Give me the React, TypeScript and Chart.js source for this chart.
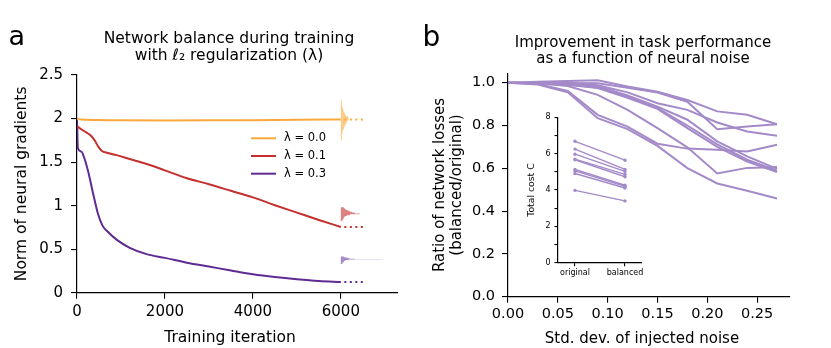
import { useEffect, useRef } from 'react';
import { Chart, registerables } from 'chart.js';

Chart.register(...registerables);

const FONT = 'DejaVu Sans';

// ---------- Panel a data ----------
const iterOrange = [0, 100, 500, 1000, 2000, 3000, 4000, 5000, 6000];
const normOrange = [1.995, 1.99, 1.982, 1.979, 1.978, 1.979, 1.981, 1.985, 1.99];
const iterRed = [0, 150, 300, 400, 480, 560, 700, 900, 1200, 1600, 2000, 2500, 3000, 3500, 4000, 4500, 5000, 5500, 6000];
const normRed = [1.91, 1.86, 1.81, 1.75, 1.68, 1.63, 1.605, 1.58, 1.535, 1.475, 1.405, 1.315, 1.245, 1.17, 1.095, 1.005, 0.92, 0.835, 0.755];
const iterPurple = [0, 20, 100, 150, 250, 370, 480, 580, 700, 900, 1200, 1600, 2000, 2500, 3000, 3500, 4000, 4500, 5000, 5500, 6000];
const normPurple = [2.0, 1.66, 1.62, 1.57, 1.4, 1.13, 0.9, 0.77, 0.7, 0.61, 0.515, 0.44, 0.4, 0.345, 0.3, 0.255, 0.212, 0.18, 0.155, 0.135, 0.123];
const lambdaLabels = ['λ = 0.0', 'λ = 0.1', 'λ = 0.3'];
const xTicksA = [0, 2000, 4000, 6000];
const yTicksA = [0, 0.5, 1, 1.5, 2, 2.5];
const tailStart = 6000;
const tailEnd = 6500;
// histograms of final gradient norms (bin lower edge, bin width, counts)
const histOrangeLow = 1.75;
const histOrangeBin = 0.02;
const histOrangeCounts = [1, 1, 1, 1.5, 1.5, 2, 3, 3.5, 4, 5, 6, 7, 8, 7, 5, 4, 3, 2.5, 2, 1.5, 1, 1, 1];
const histRedLow = 0.82;
const histRedBin = 0.01;
const histRedCounts = [1, 2, 2, 3, 3, 4, 6, 9, 19, 14, 11, 9, 7, 5, 4, 3];
const histPurpleLow = 0.33;
const histPurpleBin = 0.005;
const histPurpleCounts = [1, 2, 2, 2, 3, 3, 3, 4, 5, 8, 42, 14, 9, 7, 6, 4, 3];

// ---------- Panel b data ----------
const noiseStd = [0, 0.03, 0.06, 0.09, 0.12, 0.15, 0.18, 0.21, 0.24, 0.27];
const ratioNet1 = [1, 1.004, 1.008, 1.012, 0.982, 0.958, 0.919, 0.866, 0.85, 0.806];
const ratioNet2 = [1, 1.0, 0.999, 0.997, 0.976, 0.954, 0.911, 0.783, 0.795, 0.806];
const ratioNet3 = [1, 1.0, 0.996, 0.988, 0.955, 0.904, 0.873, 0.814, 0.772, 0.752];
const ratioNet4 = [1, 0.999, 0.992, 0.984, 0.94, 0.888, 0.827, 0.726, 0.656, 0.597];
const ratioNet5 = [1, 0.998, 0.99, 0.978, 0.933, 0.881, 0.8, 0.712, 0.64, 0.589];
const ratioNet6 = [1, 0.997, 0.985, 0.943, 0.873, 0.788, 0.698, 0.576, 0.602, 0.606];
const ratioNet7 = [1, 0.994, 0.962, 0.85, 0.795, 0.715, 0.692, 0.687, 0.679, 0.71];
const ratioNet8 = [1, 0.992, 0.955, 0.834, 0.783, 0.705, 0.601, 0.529, 0.495, 0.459];
const ratioNet9 = [1, 0.998, 0.99, 0.975, 0.93, 0.878, 0.788, 0.7, 0.632, 0.583];
const xTicksB = [0, 0.05, 0.1, 0.15, 0.2, 0.25];
const yTicksB = [0, 0.2, 0.4, 0.6, 0.8, 1.0];

// ---------- Inset data ----------
const insetCategories = ['original', 'balanced'];
const costOriginal = [6.68, 6.25, 5.97, 5.7, 5.66, 5.13, 5.05, 4.91, 3.98];
const costBalanced = [5.64, 5.13, 5.02, 4.86, 4.73, 4.26, 4.2, 4.11, 3.4];
const yTicksInset = [0, 1, 2, 3, 4, 5, 6, 7, 8];

// ---------- styles ----------
const ORANGE = '#f9a93c';
const RED = '#c5302f';
const PURPLE = '#5f2b93';
const ORANGE_H = 'rgba(249,169,60,0.6)';
const RED_H = 'rgba(197,48,47,0.6)';
const PURPLE_H = 'rgba(95,43,147,0.55)';
const LILAC = '#a48ac9';
const HIST_UNIT = 22.7; // iterations per count unit

type TextItem = { text: string; x: number; y: number; size: number; align?: CanvasTextAlign };

function textPlugin(id: string, left: number, top: number, items: TextItem[]) {
  return {
    id,
    afterDraw(chart: any) {
      const ctx = chart.ctx as CanvasRenderingContext2D;
      ctx.save();
      ctx.fillStyle = '#000';
      ctx.textBaseline = 'alphabetic';
      for (const it of items) {
        ctx.font = `${it.size}px "${FONT}"`;
        ctx.textAlign = it.align ?? 'center';
        ctx.fillText(it.text, it.x - left, it.y - top);
      }
      ctx.restore();
    },
  };
}

const legendPlugin = {
  id: 'lambdaLegend',
  afterDraw(chart: any) {
    const ctx = chart.ctx as CanvasRenderingContext2D;
    ctx.save();
    lambdaLabels.forEach((lab, i) => {
      const y = 138.3 + i * 17.7;
      ctx.strokeStyle = chart.data.datasets[i].borderColor;
      ctx.lineWidth = 2;
      ctx.beginPath();
      ctx.moveTo(251, y);
      ctx.lineTo(276, y);
      ctx.stroke();
      ctx.fillStyle = '#000';
      ctx.font = `11.5px "${FONT}"`;
      ctx.textAlign = 'left';
      ctx.textBaseline = 'middle';
      ctx.fillText(lab, 284, y);
    });
    ctx.restore();
  },
};

const hists = [
  { low: histOrangeLow, bin: histOrangeBin, counts: histOrangeCounts, color: ORANGE_H },
  { low: histRedLow, bin: histRedBin, counts: histRedCounts, color: RED_H },
  { low: histPurpleLow, bin: histPurpleBin, counts: histPurpleCounts, color: PURPLE_H },
];

const histPlugin = {
  id: 'hists',
  beforeDatasetsDraw(chart: any) {
    const { ctx, scales } = chart;
    const xs = scales.x;
    const ys = scales.y;
    ctx.save();
    for (const h of hists) {
      const x0 = xs.getPixelForValue(tailStart);
      ctx.fillStyle = h.color;
      ctx.beginPath();
      ctx.moveTo(x0, ys.getPixelForValue(h.low));
      h.counts.forEach((c: number, i: number) => {
        const x1 = xs.getPixelForValue(tailStart + c * HIST_UNIT);
        ctx.lineTo(x1, ys.getPixelForValue(h.low + i * h.bin));
        ctx.lineTo(x1, ys.getPixelForValue(h.low + (i + 1) * h.bin));
      });
      ctx.lineTo(x0, ys.getPixelForValue(h.low + h.counts.length * h.bin));
      ctx.closePath();
      ctx.fill();
    }
    ctx.restore();
  },
};

function axis(size: number, tickLen: number, pad: number, ticksArr: number[], cb: (v: number) => string, fit: (s: any) => void) {
  return {
    type: 'linear' as const,
    grid: { drawOnChartArea: false, drawTicks: true, tickLength: tickLen, color: '#000', lineWidth: 1.1 },
    border: { display: true, color: '#000', width: 1.2 },
    ticks: {
      color: '#000',
      font: { family: FONT, size },
      padding: pad,
      maxRotation: 0,
      autoSkip: false,
      callback: (v: any) => cb(Number(v)),
    },
    afterBuildTicks: (ax: any) => {
      ax.ticks = ticksArr.map((v) => ({ value: v }));
    },
    afterFit: fit,
  };
}

function pts(xs: number[], ys: number[]) {
  return xs.map((x, i) => ({ x, y: ys[i] }));
}

function configA(): any {
  const curve = (label: string, xs: number[], ys: number[], color: string) => ({
    label,
    data: pts(xs, ys),
    borderColor: color,
    borderWidth: 2,
    pointRadius: 0,
    cubicInterpolationMode: 'monotone',
  });
  const tail = (ys: number[], color: string) => ({
    label: '',
    data: [
      { x: tailStart, y: ys[ys.length - 1] },
      { x: tailEnd, y: ys[ys.length - 1] },
    ],
    borderColor: color,
    borderWidth: 2,
    borderDash: [2, 3.5],
    borderDashOffset: 2,
    pointRadius: 0,
  });
  return {
    type: 'line',
    data: {
      datasets: [
        curve(lambdaLabels[0], iterOrange, normOrange, ORANGE),
        curve(lambdaLabels[1], iterRed, normRed, RED),
        curve(lambdaLabels[2], iterPurple, normPurple, PURPLE),
        tail(normOrange, ORANGE),
        tail(normRed, RED),
        tail(normPurple, PURPLE),
      ],
    },
    options: {
      animation: false,
      responsive: false,
      devicePixelRatio: 1,
      layout: { padding: { top: 75, right: 17, left: 0, bottom: 0 } },
      scales: {
        x: {
          ...axis(15, 6, 4.5, xTicksA, (v) => String(v), (s: any) => { s.height = 55.3; }),
          min: 0,
          max: 7300,
        },
        y: {
          ...axis(15, 6, 8, yTicksA, (v) => String(v), (s: any) => { s.width = 77; }),
          min: 0,
          max: 2.5,
          title: {
            display: true,
            text: 'Norm of neural gradients',
            color: '#000',
            font: { family: FONT, size: 15.5, lineHeight: 1.2 },
            padding: { top: 12.7, bottom: 0 },
          },
        },
      },
      plugins: { legend: { display: false }, tooltip: { enabled: false }, title: { display: false } },
    },
    plugins: [
      histPlugin,
      legendPlugin,
      textPlugin('textA', 0, 0, [
        { text: 'a', x: 8.5, y: 45, size: 27, align: 'left' },
        { text: 'Network balance during training', x: 229, y: 43.3, size: 15.5 },
        { text: 'with ℓ₂ regularization (λ)', x: 229, y: 60, size: 15.5 },
        { text: 'Training iteration', x: 230, y: 341.7, size: 15.5 },
      ]),
    ],
  };
}

function configB(): any {
  const nets = [ratioNet1, ratioNet2, ratioNet3, ratioNet4, ratioNet5, ratioNet6, ratioNet7, ratioNet8, ratioNet9];
  return {
    type: 'line',
    data: {
      datasets: nets.map((r, i) => ({
        label: `network ${i + 1}`,
        data: pts(noiseStd, r),
        borderColor: LILAC,
        borderWidth: 2,
        pointRadius: 0,
        tension: 0,
      })),
    },
    options: {
      animation: false,
      responsive: false,
      devicePixelRatio: 1,
      layout: { padding: { top: 73.3, right: 41, left: 0, bottom: 0 } },
      scales: {
        x: {
          ...axis(14.5, 6, 3.3, xTicksB, (v) => v.toFixed(2), (s: any) => { s.height = 51.3; }),
          min: 0,
          max: 0.283,
        },
        y: {
          ...axis(14.5, 6, 7, yTicksB, (v) => v.toFixed(1), (s: any) => { s.width = 93; }),
          min: 0,
          max: 1.044,
          title: {
            display: true,
            text: ['Ratio of network losses', '(balanced/original)'],
            color: '#000',
            font: { family: FONT, size: 15, lineHeight: 1.15 },
            padding: { top: 16.4, bottom: 0 },
          },
        },
      },
      plugins: { legend: { display: false }, tooltip: { enabled: false }, title: { display: false } },
    },
    plugins: [
      textPlugin('textB', 415, 0, [
        { text: 'b', x: 422.5, y: 45.6, size: 28, align: 'left' },
        { text: 'Improvement in task performance', x: 643, y: 46.7, size: 15 },
        { text: 'as a function of neural noise', x: 643, y: 63.3, size: 15 },
        { text: 'Std. dev. of injected noise', x: 642, y: 343.3, size: 15 },
      ]),
    ],
  };
}

function configInset(): any {
  return {
    type: 'line',
    data: {
      datasets: costOriginal.map((c, i) => ({
        label: `network ${i + 1}`,
        data: [
          { x: 0, y: c },
          { x: 1, y: costBalanced[i] },
        ],
        borderColor: LILAC,
        backgroundColor: LILAC,
        borderWidth: 1.4,
        pointRadius: 1.7,
        pointBorderWidth: 0,
      })),
    },
    options: {
      animation: false,
      responsive: false,
      devicePixelRatio: 1,
      layout: { padding: { top: 17.3, right: 8, left: 0, bottom: 0 } },
      scales: {
        x: {
          ...axis(8, 3.5, 2, [0, 1], (v) => insetCategories[v] ?? '', (s: any) => { s.height = 22.3; }),
          min: -0.34,
          max: 1.34,
        },
        y: {
          ...axis(8, 3.5, 4, yTicksInset, (v) => (v % 2 === 0 ? String(v) : ''), (s: any) => { s.width = 43; }),
          min: 0,
          max: 8,
          title: {
            display: true,
            text: 'Total cost C',
            color: '#000',
            font: { family: FONT, size: 9.3, lineHeight: 1.2 },
            padding: { top: 11.1, bottom: 0 },
          },
        },
      },
      plugins: { legend: { display: false }, tooltip: { enabled: false }, title: { display: false } },
    },
  };
}

export default function App() {
  const refA = useRef<HTMLCanvasElement>(null);
  const refB = useRef<HTMLCanvasElement>(null);
  const refI = useRef<HTMLCanvasElement>(null);

  useEffect(() => {
    Chart.defaults.font.family = FONT;
    const charts = [
      new Chart(refA.current!, configA()),
      new Chart(refB.current!, configB()),
      new Chart(refI.current!, configInset()),
    ];
    return () => charts.forEach((c) => c.destroy());
  }, []);

  return (
    <div style={{ position: 'absolute', left: 0, top: 0, width: 831, height: 348, background: '#fff', overflow: 'hidden' }}>
      <canvas ref={refA} width={415} height={348} style={{ position: 'absolute', left: 0, top: 0, width: 415, height: 348 }} />
      <canvas ref={refB} width={416} height={348} style={{ position: 'absolute', left: 415, top: 0, width: 416, height: 348 }} />
      <canvas ref={refI} width={135} height={185} style={{ position: 'absolute', left: 515, top: 100, width: 135, height: 185 }} />
    </div>
  );
}
